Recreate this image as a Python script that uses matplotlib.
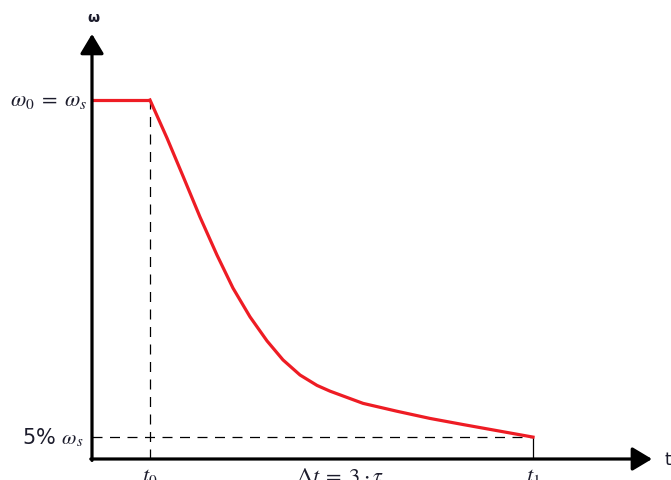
import numpy as np
import matplotlib.pyplot as plt

# --- data (t in arbitrary time units, omega normalised to omega_s) ---
t0 = 0.58
t1 = 4.41
w_s = 1.0
w_end = 0.061

t_hold = [0.0, 0.58]
w_hold = [1.0, 1.0]

t_decay = [0.58, 0.75, 0.91, 1.08, 1.25, 1.41, 1.58, 1.75, 1.91, 2.08,
           2.25, 2.38, 2.71, 3.05, 3.38, 3.71, 4.05, 4.41]
w_decay = [1.0, 0.894, 0.788, 0.674, 0.568, 0.476, 0.396, 0.329, 0.276, 0.234,
           0.205, 0.189, 0.155, 0.133, 0.113, 0.096, 0.079, 0.061]

y_labels = [r"$\omega_0\;=\;\omega_s$", r"5% $\omega_s$"]
x_labels = [r"$t_0$", r"$\Delta t\;=\;3\cdot\tau$", r"$t_1$"]

plt.rcParams['mathtext.fontset'] = 'stix'
txt_col = "#1c1c2c"
red = "#ee1c24"

fig = plt.figure(figsize=(6.71, 4.81), dpi=100)
ax = fig.add_axes([92 / 671, 21 / 481, 568 / 671, 430 / 481])
ax.set_xlim(0, 5.68)
ax.set_ylim(0, 430 / 359)
ax.axis("off")

# helper lines
ax.plot([t0, t0], [0, w_s], color="k", lw=0.9, ls=(0, (8, 6)))
ax.plot([0, t1], [w_end, w_end], color="k", lw=0.9, ls=(0, (8, 6)))
ax.plot([t1, t1], [0, w_end], color="k", lw=0.9)

# speed curve
ax.plot(t_hold, w_hold, color=red, lw=2.3, solid_capstyle="butt")
ax.plot(t_decay, w_decay, color=red, lw=2.3, solid_joinstyle="round")

# axes with arrow heads
arrow = dict(arrowstyle="-|>,head_length=0.6,head_width=0.36", lw=2.3,
             color="k", mutation_scale=20, shrinkA=0, shrinkB=0)
ax.annotate("", xy=(5.60, 0), xytext=(-0.012, 0), arrowprops=arrow,
            annotation_clip=False)
ax.annotate("", xy=(0, 1.184), xytext=(0, -0.004), arrowprops=arrow,
            annotation_clip=False)

# labels
ax.text(0.01, 1.232, "ω", fontsize=10, fontweight="bold", color=txt_col,
        ha="center", va="center", clip_on=False)
ax.text(5.76, 0.0, "t", fontsize=12, color=txt_col, ha="center",
        va="center", clip_on=False)

ax.text(-0.04, w_s, y_labels[0], fontsize=16, color=txt_col, ha="right",
        va="center", clip_on=False)
ax.text(-0.09, w_end, y_labels[1], fontsize=15, color=txt_col, ha="right",
        va="center", clip_on=False)

# time marks sit on the lower edge, as in the original sketch
for x, lab in zip([t0, 2.48, t1], x_labels):
    ax.text(x, -0.02, lab, fontsize=16, color=txt_col, ha="center",
            va="top", clip_on=False)

fig.savefig("out.png", dpi=100)
